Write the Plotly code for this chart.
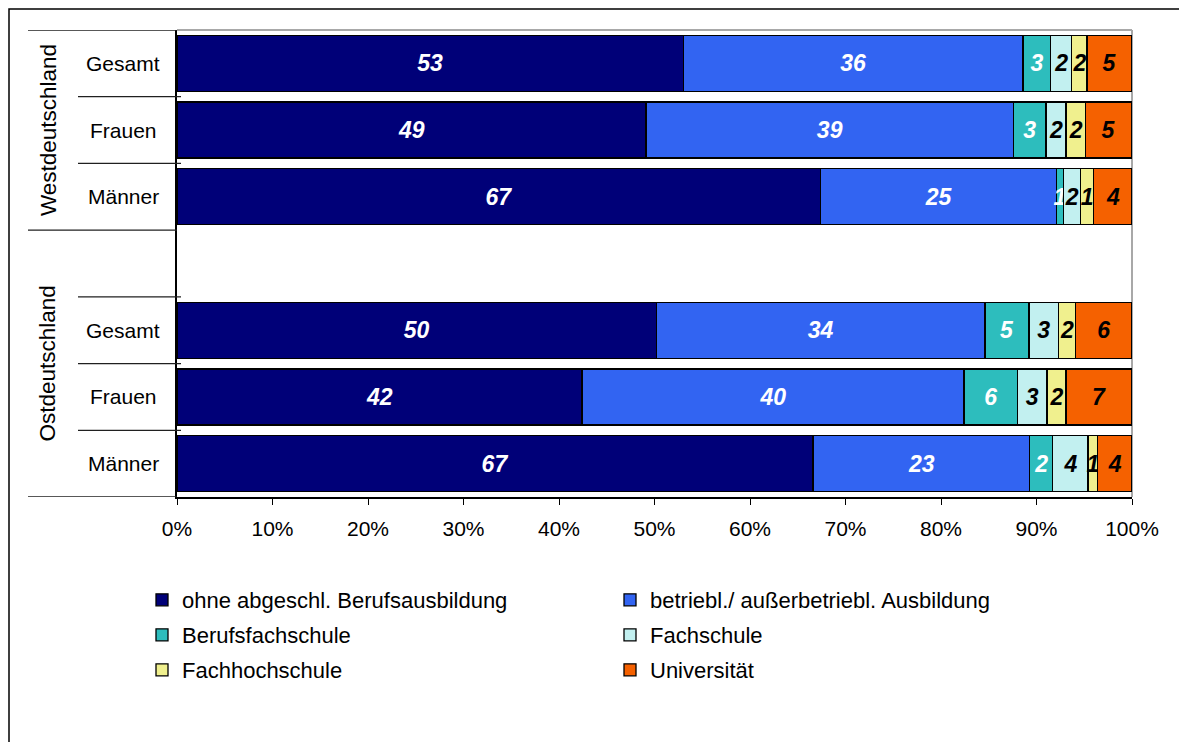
import plotly.graph_objects as go

# ---- data -------------------------------------------------------------
regions = ["Westdeutschland", "Ostdeutschland"]
groups = ["Gesamt", "Frauen", "Männer"]

series_names = [
    "ohne abgeschl. Berufsausbildung",
    "betriebl./ außerbetriebl. Ausbildung",
    "Berufsfachschule",
    "Fachschule",
    "Fachhochschule",
    "Universität",
]

# rows: West Gesamt, West Frauen, West Männer, Ost Gesamt, Ost Frauen, Ost Männer
ohne_abschluss = [53.0, 49.1, 67.4, 50.2, 42.4, 66.6]
betrieblich = [35.6, 38.5, 24.7, 34.4, 40.0, 22.7]
berufsfachschule = [2.9, 3.4, 0.7, 4.6, 5.6, 2.4]
fachschule = [2.2, 2.1, 1.8, 3.1, 3.1, 3.7]
fachhochschule = [1.6, 2.0, 1.4, 1.8, 2.0, 1.0]
universitaet = [4.7, 4.9, 4.0, 5.9, 6.9, 3.6]

x_ticks = [0, 10, 20, 30, 40, 50, 60, 70, 80, 90, 100]
x_tick_labels = [f"{v}%" for v in x_ticks]

# ---- styling ---------------------------------------------------------
series_values = [ohne_abschluss, betrieblich, berufsfachschule,
                 fachschule, fachhochschule, universitaet]
colors = ["#000078", "#3264F2", "#2DBDBD", "#C2F0F0", "#F0F08E", "#F56100"]
text_colors = ["white", "white", "white", "black", "black", "black"]
legend_ids = ["legend", "legend", "legend2", "legend2", "legend3", "legend3"]

OFF = 8                      # page body margin of the html page
W, H = 1187 - OFF, 742 - OFF
PL, PR, PT, PB = 177, 1132, 30, 497   # target plot box in screen px
L, T = PL - OFF, PT - OFF
R, B = W - (PR - OFF), H - (PB - OFF)
PW = W - L - R
PH = H - T - B
FONT = "Liberation Sans, Arial, sans-serif"


def px_x(p):
    return (p - OFF - L) / PW


def px_y(p):
    return (H - B - (p - OFF)) / PH


# slot positions: three West rows, one empty slot, three Ost rows
positions = []
for ri in range(len(regions)):
    for gi in range(len(groups)):
        positions.append(ri * (len(groups) + 1) + gi)
last_slot = positions[-1]

fig = go.Figure()
for name, vals, col, tcol, lg in zip(series_names, series_values, colors,
                                     text_colors, legend_ids):
    fig.add_trace(go.Bar(
        x=vals, y=positions, orientation="h", name=name,
        marker=dict(color=col, line=dict(color="black", width=1.3)),
        text=vals, texttemplate="%{x:.0f}", textposition="inside",
        insidetextanchor="middle", textangle=0, constraintext="none",
        textfont=dict(family=FONT, size=23, color=tcol,
                      weight="bold", style="italic"),
        cliponaxis=False, legend=lg,
    ))

annotations = []
# row labels
for pos, g in zip(positions, groups * len(regions)):
    annotations.append(dict(
        x=px_x(123), xref="paper", y=pos, yref="y", text=g,
        showarrow=False, xanchor="center", yanchor="middle",
        font=dict(family=FONT, size=21, color="black")))
# region labels (rotated)
region_centers = [(len(groups) - 1) / 2,
                  (len(groups) - 0.5 + last_slot + 0.5) / 2]
for reg, c in zip(regions, region_centers):
    annotations.append(dict(
        x=px_x(48), xref="paper", y=c, yref="y", text=reg, textangle=-90,
        showarrow=False, xanchor="center", yanchor="middle",
        font=dict(family=FONT, size=22.5, color="black")))

shapes = []
# outer frame
shapes.append(dict(type="rect", xref="paper", yref="paper",
                   x0=px_x(9), x1=px_x(1187 + 20), y0=px_y(742 + 20),
                   y1=px_y(9), line=dict(color="black", width=1.5),
                   layer="below"))
# plot area top / right border (gray)
shapes.append(dict(type="line", xref="paper", yref="paper",
                   x0=0, x1=1, y0=1, y1=1,
                   line=dict(color="#A8A8A8", width=2), layer="below"))
shapes.append(dict(type="line", xref="paper", yref="paper",
                   x0=1, x1=1, y0=0, y1=1,
                   line=dict(color="#A8A8A8", width=2), layer="below"))
# category separators
long_lines = [-0.5, len(groups) - 0.5, last_slot + 0.5]
short_lines = [0.5, 1.5, len(groups) + 0.5, len(groups) + 1.5,
               len(groups) + 2.5]
for yv in long_lines:
    shapes.append(dict(type="line", xref="paper", yref="y",
                       x0=px_x(28), x1=0, y0=yv, y1=yv,
                       line=dict(color="#202020", width=1.3)))
for yv in short_lines:
    shapes.append(dict(type="line", xref="paper", yref="y",
                       x0=px_x(78), x1=px_x(181), y0=yv, y1=yv,
                       line=dict(color="#202020", width=1.3)))

legend_common = dict(orientation="h", xanchor="left", yanchor="middle",
                     traceorder="normal",
                     entrywidthmode="pixels", entrywidth=423,
                     font=dict(family=FONT, size=22, color="black"),
                     bgcolor="rgba(0,0,0,0)", itemclick=False,
                     itemdoubleclick=False)

fig.update_layout(
    width=W, height=H,
    margin=dict(l=L, r=R, t=T, b=B, pad=0),
    paper_bgcolor="white", plot_bgcolor="white",
    barmode="stack", bargap=0.16,
    font=dict(family=FONT, color="black"),
    xaxis=dict(range=[0, 100.0001], tickmode="array", tickvals=x_ticks,
               ticktext=x_tick_labels,
               showgrid=False, zeroline=False, showline=True,
               linecolor="black", linewidth=1.5, ticks="outside",
               ticklen=6, tickcolor="black", tickwidth=1.2,
               tickfont=dict(family=FONT, size=21, color="black"),
               ticklabelstandoff=6, fixedrange=True),
    yaxis=dict(range=[last_slot + 0.5, -0.5], showticklabels=False,
               showgrid=False, zeroline=False, showline=True,
               linecolor="black", linewidth=1.5, ticks="",
               fixedrange=True),
    legend=dict(x=px_x(142), y=px_y(600), **legend_common),
    legend2=dict(x=px_x(142), y=px_y(635), **legend_common),
    legend3=dict(x=px_x(142), y=px_y(670), **legend_common),
    annotations=annotations,
    shapes=shapes,
    showlegend=True,
)

fig.write_html("out.html")
